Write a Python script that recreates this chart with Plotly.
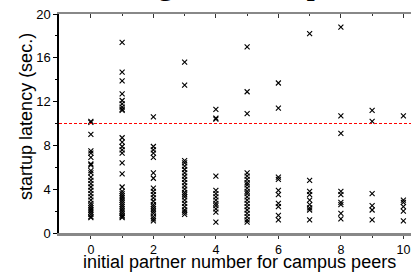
import plotly.graph_objects as go

# startup latency (sec.) observed for each initial partner number
partner_numbers = list(range(11))
lat_p0 = [10.2, 10.1, 9.0, 7.5, 7.3, 6.9, 6.3, 6.2, 5.7, 5.5, 5.1, 4.8, 4.5, 4.2,
          3.9, 3.6, 3.3, 3.0, 2.7, 2.5, 2.3, 2.1, 1.9, 1.7, 1.5, 1.4]
lat_p1 = [17.4, 14.7, 13.9, 12.7, 12.1, 11.8, 11.5, 11.3, 11.2,
          8.7, 8.3, 7.9, 7.6, 7.3, 6.4, 5.4, 4.2, 3.8, 3.6, 3.4, 3.2, 3.0,
          2.8, 2.6, 2.4, 2.2, 2.0, 1.8, 1.6, 1.5, 1.4]
lat_p2 = [10.6, 7.9, 7.6, 7.3, 6.9, 5.5, 5.0, 4.1, 3.8, 3.5, 3.2, 2.9, 2.6,
          2.4, 2.2, 2.0, 1.8, 1.5, 1.3, 1.1]
lat_p3 = [15.6, 13.5, 6.6, 6.4, 6.1, 5.8, 5.5, 5.2, 4.9, 4.6, 4.3, 4.0, 3.7,
          3.5, 3.3, 3.0, 2.7, 2.4, 2.1, 1.9, 1.7]
lat_p4 = [11.3, 10.5, 10.4, 5.2, 3.9, 3.6, 3.3, 3.0, 2.7, 2.5, 2.2, 1.9, 1.0]
lat_p5 = [17.0, 12.9, 10.9, 5.5, 5.2, 4.9, 4.6, 4.4, 4.1, 3.8, 3.6, 3.3, 3.0,
          2.7, 2.4, 2.1, 1.8, 1.5, 1.2, 1.0]
lat_p6 = [13.7, 11.4, 5.1, 4.9, 3.9, 3.5, 2.7, 2.4, 1.6, 1.2]
lat_p7 = [18.2, 4.8, 3.8, 3.5, 3.0, 2.6, 2.3, 2.1, 1.2]
lat_p8 = [18.8, 10.7, 9.1, 3.8, 3.5, 2.8, 2.6, 1.8, 1.3]
lat_p9 = [11.2, 10.2, 3.6, 2.5, 2.1, 1.2]
lat_p10 = [10.7, 3.0, 2.8, 2.4, 2.0, 1.1]
threshold = 10
x_ticks = [0, 2, 4, 6, 8, 10]
y_ticks = [0, 4, 8, 12, 16, 20]
caption_text = "Fig. 9. Startup"  # caption cut off at the top edge

columns = [lat_p0, lat_p1, lat_p2, lat_p3, lat_p4, lat_p5,
           lat_p6, lat_p7, lat_p8, lat_p9, lat_p10]
xs, ys = [], []
for n, vals in zip(partner_numbers, columns):
    xs += [n] * len(vals)
    ys += vals

xr = [-1.02, 10.5]
font = "Liberation Sans, Arial, sans-serif"
fig = go.Figure()
# threshold line, drawn across the whole (top) axis range
fig.add_trace(go.Scatter(x=xr, y=[threshold, threshold], mode="lines",
                         xaxis="x2", yaxis="y",
                         line=dict(color="#ff0000", width=1.1, dash="3px,2px"),
                         showlegend=False, hoverinfo="skip"))
fig.add_trace(go.Scatter(
    x=xs, y=ys, mode="markers",
    marker=dict(symbol="x-thin", size=5, color="black",
                line=dict(color="black", width=1.1)),
    showlegend=False, hoverinfo="skip"))

fig.add_annotation(text=caption_text, xref="paper", yref="paper",
                   x=0.19, y=1.05, xanchor="left", yanchor="bottom",
                   showarrow=False,
                   font=dict(family="Liberation Serif, Times New Roman, serif",
                             size=34, color="black"))
fig.add_annotation(text="startup latency (sec.)", xref="paper", yref="paper",
                   x=-0.092, y=0.534, xanchor="center", yanchor="middle",
                   textangle=-90, showarrow=False,
                   font=dict(family=font, size=18, color="black"))
fig.add_annotation(text="initial partner number for campus peers",
                   xref="paper", yref="paper",
                   x=0.5, y=-0.132, xanchor="center", yanchor="middle",
                   showarrow=False,
                   font=dict(family=font, size=18, color="black"))

fig.update_layout(
    width=419, height=276,
    margin=dict(l=59, r=0, t=14, b=43),
    paper_bgcolor="white", plot_bgcolor="white",
    font=dict(family=font, size=13, color="black"),
    xaxis=dict(range=xr, tickmode="array", tickvals=x_ticks,
               showgrid=False, zeroline=False,
               showline=True, linecolor="#888888", linewidth=2.5,
               ticks="outside", ticklen=3, tickwidth=1, tickcolor="#333333",
               minor=dict(tickvals=[1, 3, 5, 7, 9], ticks="outside",
                          ticklen=2, tickwidth=1, tickcolor="#333333"),
               tickfont=dict(size=12.5)),
    xaxis2=dict(range=xr, overlaying="x", side="top", anchor="y",
                tickmode="array", tickvals=x_ticks,
                showticklabels=False, showgrid=False, zeroline=False,
                showline=True, linecolor="#888888", linewidth=1.5,
                ticks="inside", ticklen=4, tickwidth=1, tickcolor="#333333",
                minor=dict(tickvals=[-1, 1, 3, 5, 7, 9], ticks="inside",
                           ticklen=2, tickwidth=1, tickcolor="#333333")),
    yaxis=dict(range=[0, 20], tickmode="array", tickvals=y_ticks,
               showgrid=False, zeroline=False,
               showline=True, linecolor="black", linewidth=1.5,
               ticks="outside", ticklen=4, tickwidth=1, tickcolor="black",
               minor=dict(tickvals=[2, 6, 10, 14, 18], ticks="outside",
                          ticklen=2, tickwidth=1, tickcolor="black"),
               tickfont=dict(size=13)),
)
fig.write_html("out.html", config={"displayModeBar": False},
               post_script="document.body.style.margin='0';"
                           "document.body.style.overflow='hidden';")
